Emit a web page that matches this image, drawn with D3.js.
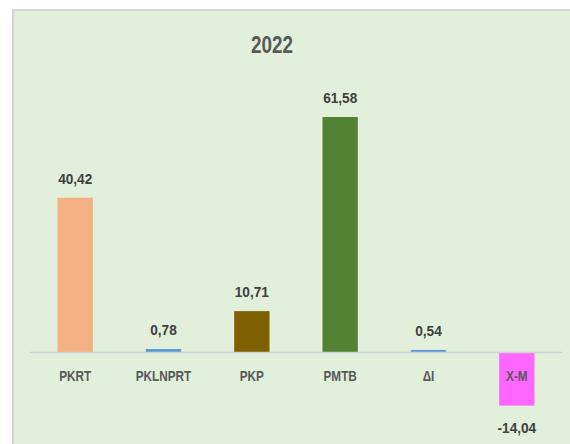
<!DOCTYPE html>
<html>
<head>
<meta charset="utf-8">
<script src="https://cdn.jsdelivr.net/npm/d3@7"></script>
<style>
    body { margin: 0; background: #fff; }
    text { font-family: "Liberation Sans", Arial, sans-serif; font-weight: bold; }
</style>
</head>
<body>
<div id="chart"></div>
<script>
const width = 570
const height = 444

// data
const categories = ['PKRT', 'PKLNPRT', 'PKP', 'PMTB', 'ΔI', 'X-M']
const values = [40.42, 0.78, 10.71, 61.58, 0.54, -14.04]
const valueLabels = ['40,42', '0,78', '10,71', '61,58', '0,54', '-14,04']
const colors = ['#F4B183', '#5B9BD5', '#7F6000', '#548235', '#5B9BD5', '#FF66FF']
const title = '2022'

const data = categories.map((c, i) => ({ cat: c, value: values[i], label: valueLabels[i], color: colors[i] }))

let svg = d3.select('#chart').append('svg').attr('width', width).attr('height', height)

// panel
svg.append('rect')
    .attr('x', 13).attr('y', 10)
    .attr('width', width).attr('height', height)
    .attr('fill', '#E2EFDA')
    .attr('stroke', '#D4D4D4')
    .attr('stroke-width', 2)

// narrow text: squeeze horizontally like the condensed original font
function narrowText(g, x, y, sx, size, color, txt) {
    g.append('g')
        .attr('transform', `translate(${x}, ${y}) scale(${sx}, 1)`)
        .append('text')
            .attr('text-anchor', 'middle')
            .attr('font-size', size)
            .attr('fill', color)
            .text(txt)
}

narrowText(svg, 272, 53, 0.82, 23, '#595959', title)

let x = d3.scaleBand().domain(categories).range([31, 561]).paddingInner(0.6).paddingOuter(0.3)
let y = d3.scaleLinear().domain([0, 61.58]).range([352, 117])

let elementGroup = svg.append('g').attr('id', 'elementGroup')

elementGroup.selectAll('rect.bar').data(data)
    .enter().append('rect')
        .attr('class', 'bar')
        .attr('x', d => x(d.cat))
        .attr('width', x.bandwidth())
        .attr('y', d => y(Math.max(0, d.value)))
        .attr('height', d => Math.abs(y(d.value) - y(0)))
        .attr('fill', d => d.color)

// zero line
svg.append('line')
    .attr('x1', 30).attr('x2', 562)
    .attr('y1', y(0) + 0.5).attr('y2', y(0) + 0.5)
    .attr('stroke', '#D0D0D0')
    .attr('stroke-width', 1.5)

// value labels
data.forEach(d => {
    let cx = x(d.cat) + x.bandwidth() / 2
    let ly = d.value >= 0 ? y(d.value) - 14 : y(d.value) + 27
    narrowText(elementGroup, cx, ly, 0.88, 15.5, '#404040', d.label)
})

// category labels
data.forEach(d => {
    let cx = x(d.cat) + x.bandwidth() / 2
    narrowText(elementGroup, cx, 381, 0.76, 15.5, '#595959', d.cat)
})
</script>
</body>
</html>
